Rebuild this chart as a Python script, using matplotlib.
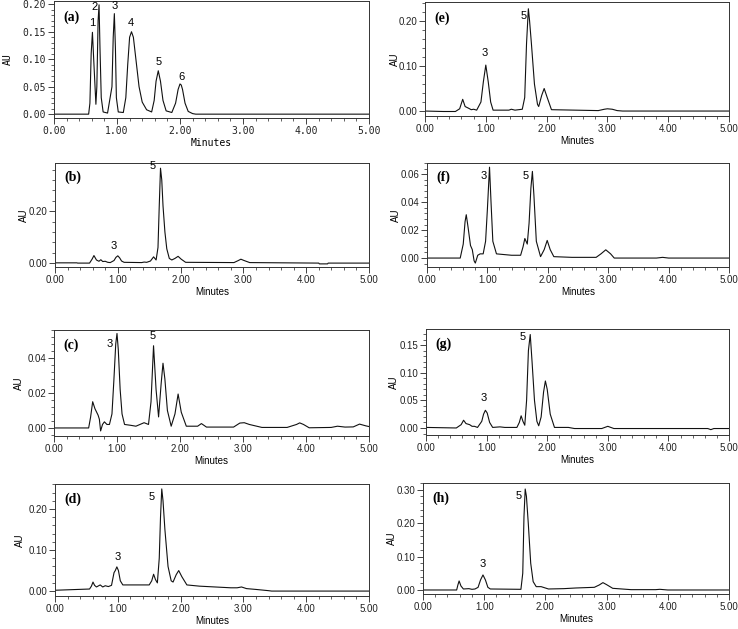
import matplotlib
matplotlib.use('Agg')
import matplotlib.pyplot as plt
from matplotlib.ticker import MultipleLocator, FormatStrFormatter

# ---- chromatogram traces (minutes, AU) ----
t_a = [0, 0.55, 0.57, 0.59, 0.61, 0.63, 0.665, 0.68, 0.70, 0.715, 0.73, 0.75, 0.78,
       0.85, 0.92, 0.94, 0.958, 0.975, 0.99, 1.02, 1.10, 1.14, 1.17, 1.20, 1.23, 1.26,
       1.30, 1.35, 1.40, 1.47, 1.55, 1.59, 1.62, 1.655, 1.69, 1.73, 1.78, 1.87, 1.93,
       1.97, 2.00, 2.02, 2.04, 2.08, 2.13, 2.20, 2.25, 5.0]
y_a = [0, 0, 0.02, 0.11, 0.149, 0.10, 0.018, 0.05, 0.17, 0.199, 0.12, 0.03, 0.004,
       0.002, 0.05, 0.14, 0.183, 0.12, 0.03, 0.004, 0.003, 0.03, 0.09, 0.14, 0.150, 0.14,
       0.10, 0.05, 0.022, 0.008, 0.004, 0.025, 0.060, 0.079, 0.060, 0.025, 0.006, 0.003,
       0.02, 0.045, 0.055, 0.053, 0.045, 0.02, 0.005, 0.001, 0, 0]

t_b = [0, 0.35, 0.36, 0.55, 0.59, 0.62, 0.66, 0.70, 0.73, 0.76, 0.80, 0.84, 0.88, 0.94,
       0.97, 1.00, 1.03, 1.06, 1.10, 1.38, 1.42, 1.46, 1.52, 1.57, 1.61, 1.64, 1.66, 1.68,
       1.70, 1.72, 1.75, 1.78, 1.82, 1.86, 1.91, 1.96, 2.01, 2.08, 2.85, 2.92, 2.96, 3.01,
       3.10, 4.20, 4.21, 4.34, 4.35, 5.0]
y_b = [0.001, 0.001, 0.0, 0.0, 0.015, 0.029, 0.012, 0.007, 0.013, 0.006, 0.007, 0.003,
       0.002, 0.010, 0.022, 0.028, 0.020, 0.008, 0.003, 0.002, 0.004, 0.003, 0.008, 0.024,
       0.012, 0.06, 0.22, 0.365, 0.32, 0.22, 0.12, 0.055, 0.018, 0.012, 0.018, 0.026, 0.015,
       0.003, 0.002, 0.010, 0.015, 0.010, 0.002, 0.0, -0.003, -0.003, 0.0, 0.0]

t_c = [0, 0.55, 0.58, 0.614, 0.65, 0.70, 0.72, 0.74, 0.77, 0.80, 0.84, 0.88, 0.92, 0.95,
       0.98, 1.00, 1.02, 1.05, 1.08, 1.12, 1.22, 1.30, 1.43, 1.50, 1.54, 1.58, 1.62, 1.66,
       1.70, 1.73, 1.76, 1.80, 1.86, 1.92, 1.97, 2.02, 2.10, 2.28, 2.34, 2.42, 2.85, 2.95,
       3.02, 3.10, 3.30, 3.70, 3.85, 3.90, 3.96, 4.05, 4.40, 4.50, 4.62, 4.75, 4.85, 4.95,
       5.0]
y_c = [0, 0, 0.006, 0.015, 0.011, 0.0073, 0.005, -0.0017, 0.002, 0.0035, 0.002, 0.002,
       0.008, 0.027, 0.048, 0.054, 0.045, 0.022, 0.008, 0.002, 0.0015, 0.001, 0.003,
       0.002, 0.015, 0.047, 0.022, 0.0063, 0.025, 0.037, 0.028, 0.010, 0.001, 0.008,
       0.0194, 0.009, 0.001, 0.001, 0.0025, 0.0005, 0.0005, 0.0028, 0.003, 0.002, 0.0003,
       0.0003, 0.002, 0.0029, 0.002, 0.0001, 0.0003, 0.001, 0.0005, 0.0006, 0.0022,
       0.0012, 0.0008]

t_d = [0, 0.55, 0.58, 0.605, 0.63, 0.66, 0.72, 0.76, 0.80, 0.85, 0.90, 0.94, 0.96, 0.985,
       1.01, 1.04, 1.08, 1.50, 1.54, 1.57, 1.60, 1.63, 1.66, 1.68, 1.70, 1.72, 1.75, 1.80,
       1.85, 1.88, 1.93, 1.97, 2.02, 2.10, 2.30, 2.80, 2.90, 2.97, 3.05, 3.20, 3.40, 3.45,
       5.0]
y_d = [0.002, 0.005, 0.012, 0.022, 0.014, 0.010, 0.015, 0.010, 0.013, 0.011, 0.014, 0.045,
       0.050, 0.059, 0.050, 0.025, 0.015, 0.015, 0.025, 0.041, 0.028, 0.020, 0.08, 0.18,
       0.249, 0.22, 0.15, 0.06, 0.025, 0.022, 0.040, 0.05, 0.035, 0.015, 0.012, 0.008,
       0.008, 0.01, 0.006, 0.004, 0.001, 0.0, 0.0]

t_e = [0, 0.30, 0.50, 0.57, 0.62, 0.66, 0.72, 0.76, 0.80, 0.85, 0.92, 0.96, 1.00, 1.04,
       1.08, 1.12, 1.38, 1.42, 1.48, 1.60, 1.64, 1.67, 1.70, 1.72, 1.75, 1.80, 1.85, 1.87,
       1.92, 1.96, 2.01, 2.08, 2.85, 2.95, 3.00, 3.08, 3.16, 3.25, 5.0]
y_e = [0, -0.001, -0.001, 0.005, 0.026, 0.010, 0.006, 0.003, 0.004, 0.002, 0.02, 0.065,
       0.102, 0.065, 0.02, 0.002, 0.002, 0.004, 0.002, 0.004, 0.03, 0.15, 0.227, 0.20,
       0.15, 0.06, 0.015, 0.01, 0.035, 0.05, 0.03, 0.003, 0.001, 0.004, 0.005, 0.004,
       0.001, 0.0, 0.0]

t_f = [0, 0.55, 0.60, 0.63, 0.65, 0.68, 0.72, 0.75, 0.78, 0.80, 0.84, 0.88, 0.93, 0.97,
       1.00, 1.035, 1.06, 1.09, 1.15, 1.40, 1.55, 1.59, 1.62, 1.66, 1.69, 1.72, 1.745,
       1.77, 1.81, 1.88, 1.94, 1.99, 2.04, 2.10, 2.40, 2.80, 2.88, 2.96, 3.04, 3.10, 3.80,
       3.90, 4.00, 5.0]
y_f = [0, 0, 0.01, 0.026, 0.031, 0.022, 0.009, 0.006, -0.002, -0.0036, 0.002, 0.003,
       0.003, 0.012, 0.035, 0.065, 0.040, 0.012, 0.003, 0.002, 0.002, 0.008, 0.014, 0.010,
       0.025, 0.05, 0.062, 0.045, 0.012, 0.001, 0.006, 0.0126, 0.006, 0.001, 0.0005, 0.0005,
       0.003, 0.0059, 0.003, 0.0, 0.0, 0.0005, 0.0, 0.0]

t_g = [0, 0.50, 0.58, 0.62, 0.66, 0.72, 0.76, 0.80, 0.85, 0.92, 0.95, 0.98, 1.01, 1.05,
       1.10, 1.22, 1.30, 1.50, 1.54, 1.57, 1.60, 1.63, 1.66, 1.69, 1.72, 1.75, 1.79, 1.83,
       1.86, 1.90, 1.94, 1.97, 2.00, 2.05, 2.12, 2.35, 2.45, 2.90, 3.00, 3.10, 4.65, 4.70,
       4.75, 5.0]
y_g = [0.001, 0.0, 0.006, 0.014, 0.008, 0.006, 0.003, 0.003, 0.001, 0.012, 0.025, 0.032,
       0.027, 0.01, 0.001, 0.002, 0.001, 0.001, 0.01, 0.022, 0.012, 0.005, 0.05, 0.14,
       0.169, 0.12, 0.05, 0.012, 0.004, 0.02, 0.065, 0.085, 0.07, 0.025, 0.001, 0.001,
       -0.001, -0.001, 0.003, -0.001, -0.001, -0.003, -0.001, -0.001]

t_h = [0, 0.55, 0.57, 0.59, 0.62, 0.66, 0.75, 0.80, 0.85, 0.90, 0.94, 0.98, 1.02, 1.06,
       1.10, 1.60, 1.63, 1.65, 1.67, 1.69, 1.72, 1.76, 1.80, 1.85, 1.93, 2.05, 2.30, 2.50,
       2.80, 2.88, 2.94, 3.00, 3.10, 3.40, 3.80, 3.87, 4.00, 5.0]
y_h = [0, 0, 0.015, 0.027, 0.012, 0.003, 0.004, 0.002, 0.003, 0.008, 0.03, 0.045, 0.03,
       0.008, 0.003, 0.002, 0.05, 0.22, 0.302, 0.28, 0.2, 0.08, 0.025, 0.01, 0.01, 0.003,
       0.004, 0.006, 0.008, 0.015, 0.022, 0.016, 0.005, 0.001, 0.001, 0.002, 0.0, 0.0]

# peak number labels: (text, minutes, AU)
lab_a = [('1', 0.61, 0.166), ('2', 0.64, 0.195), ('3', 0.97, 0.197),
         ('4', 1.22, 0.166), ('5', 1.656, 0.095), ('6', 2.016, 0.067)]
lab_b = [('3', 0.94, 0.065), ('5', 1.55, 0.372)]
lab_c = [('3', 0.89, 0.048), ('5', 1.57, 0.0525)]
lab_d = [('3', 1.00, 0.083), ('5', 1.54, 0.229)]
lab_e = [('3', 0.975, 0.128), ('5', 1.63, 0.21)]
lab_f = [('3', 0.94, 0.0585), ('5', 1.635, 0.0585)]
lab_g = [('3', 0.95, 0.054), ('5', 1.60, 0.164)]
lab_h = [('3', 0.98, 0.079), ('5', 1.57, 0.281)]

# y tick step and y range per panel
ystep = {'a': 0.05, 'b': 0.20, 'c': 0.02, 'd': 0.10,
         'e': 0.10, 'f': 0.02, 'g': 0.05, 'h': 0.10}
yrange = {'a': (-0.007, 0.206), 'b': (-0.015, 0.385), 'c': (-0.0046, 0.056),
          'd': (-0.012, 0.261), 'e': (-0.011, 0.242), 'f': (-0.0064, 0.068),
          'g': (-0.0127, 0.179), 'h': (-0.012, 0.32)}

panels = {
    'a': (t_a, y_a, lab_a), 'b': (t_b, y_b, lab_b), 'c': (t_c, y_c, lab_c),
    'd': (t_d, y_d, lab_d), 'e': (t_e, y_e, lab_e), 'f': (t_f, y_f, lab_f),
    'g': (t_g, y_g, lab_g), 'h': (t_h, y_h, lab_h),
}

# axes boxes in pixels: left, top, right, bottom, x of the "AU" label
boxes = {
    'a': (54, 1, 369, 118, 13), 'b': (55, 163, 369, 267, 29),
    'c': (54, 330, 369, 436, 24), 'd': (55, 484, 369, 596, 25),
    'e': (425, 2, 729, 116, 400), 'f': (427, 163, 729, 267, 401),
    'g': (426, 329, 729, 435, 399), 'h': (423, 483, 729, 594, 397),
}

W, H = 738, 629
fig = plt.figure(figsize=(W / 100, H / 100), dpi=100)
fig.patch.set_facecolor('white')

for key, (t, y, labs) in panels.items():
    l, tp, r, b, aux = boxes[key]
    ax = fig.add_axes([l / W, 1 - b / H, (r - l) / W, (b - tp) / H])
    ax.plot(t, y, color='#111111', lw=0.8)
    ax.set_xlim(0, 5)
    ax.set_ylim(*yrange[key])

    tickfont = 'DejaVu Sans Mono' if key == 'a' else 'Liberation Sans'
    ax.xaxis.set_major_locator(MultipleLocator(1.0))
    ax.xaxis.set_minor_locator(MultipleLocator(0.2))
    ax.yaxis.set_major_locator(MultipleLocator(ystep[key]))
    ax.yaxis.set_minor_locator(MultipleLocator(ystep[key] / 5))
    ax.xaxis.set_major_formatter(FormatStrFormatter('%.2f'))
    ax.yaxis.set_major_formatter(FormatStrFormatter('%.2f'))
    ax.tick_params(which='major', direction='out', length=4, width=0.6, pad=1.5,
                   labelsize=7, colors='#222222')
    ax.tick_params(which='minor', direction='out', length=2, width=0.5, colors='#222222')
    for lb in ax.get_xticklabels() + ax.get_yticklabels():
        lb.set_family(tickfont)
    for sp in ax.spines.values():
        sp.set_linewidth(0.7)
        sp.set_color('#333333')

    ax.set_xlabel('Minutes', fontsize=7, family=tickfont, labelpad=2)
    ax.set_ylabel('AU', fontsize=7, family=tickfont)
    ax.yaxis.set_label_coords(-(l - aux) / (r - l), 0.5)

    ax.text(0.03, 0.86, '(%s)' % key, transform=ax.transAxes, fontsize=10,
            fontweight='bold', family='Liberation Serif', ha='left', va='center')
    for txt, x, yy in labs:
        ax.text(x, yy, txt, fontsize=8, family='Liberation Sans', ha='center', va='center')

fig.savefig('out.png', dpi=100)
